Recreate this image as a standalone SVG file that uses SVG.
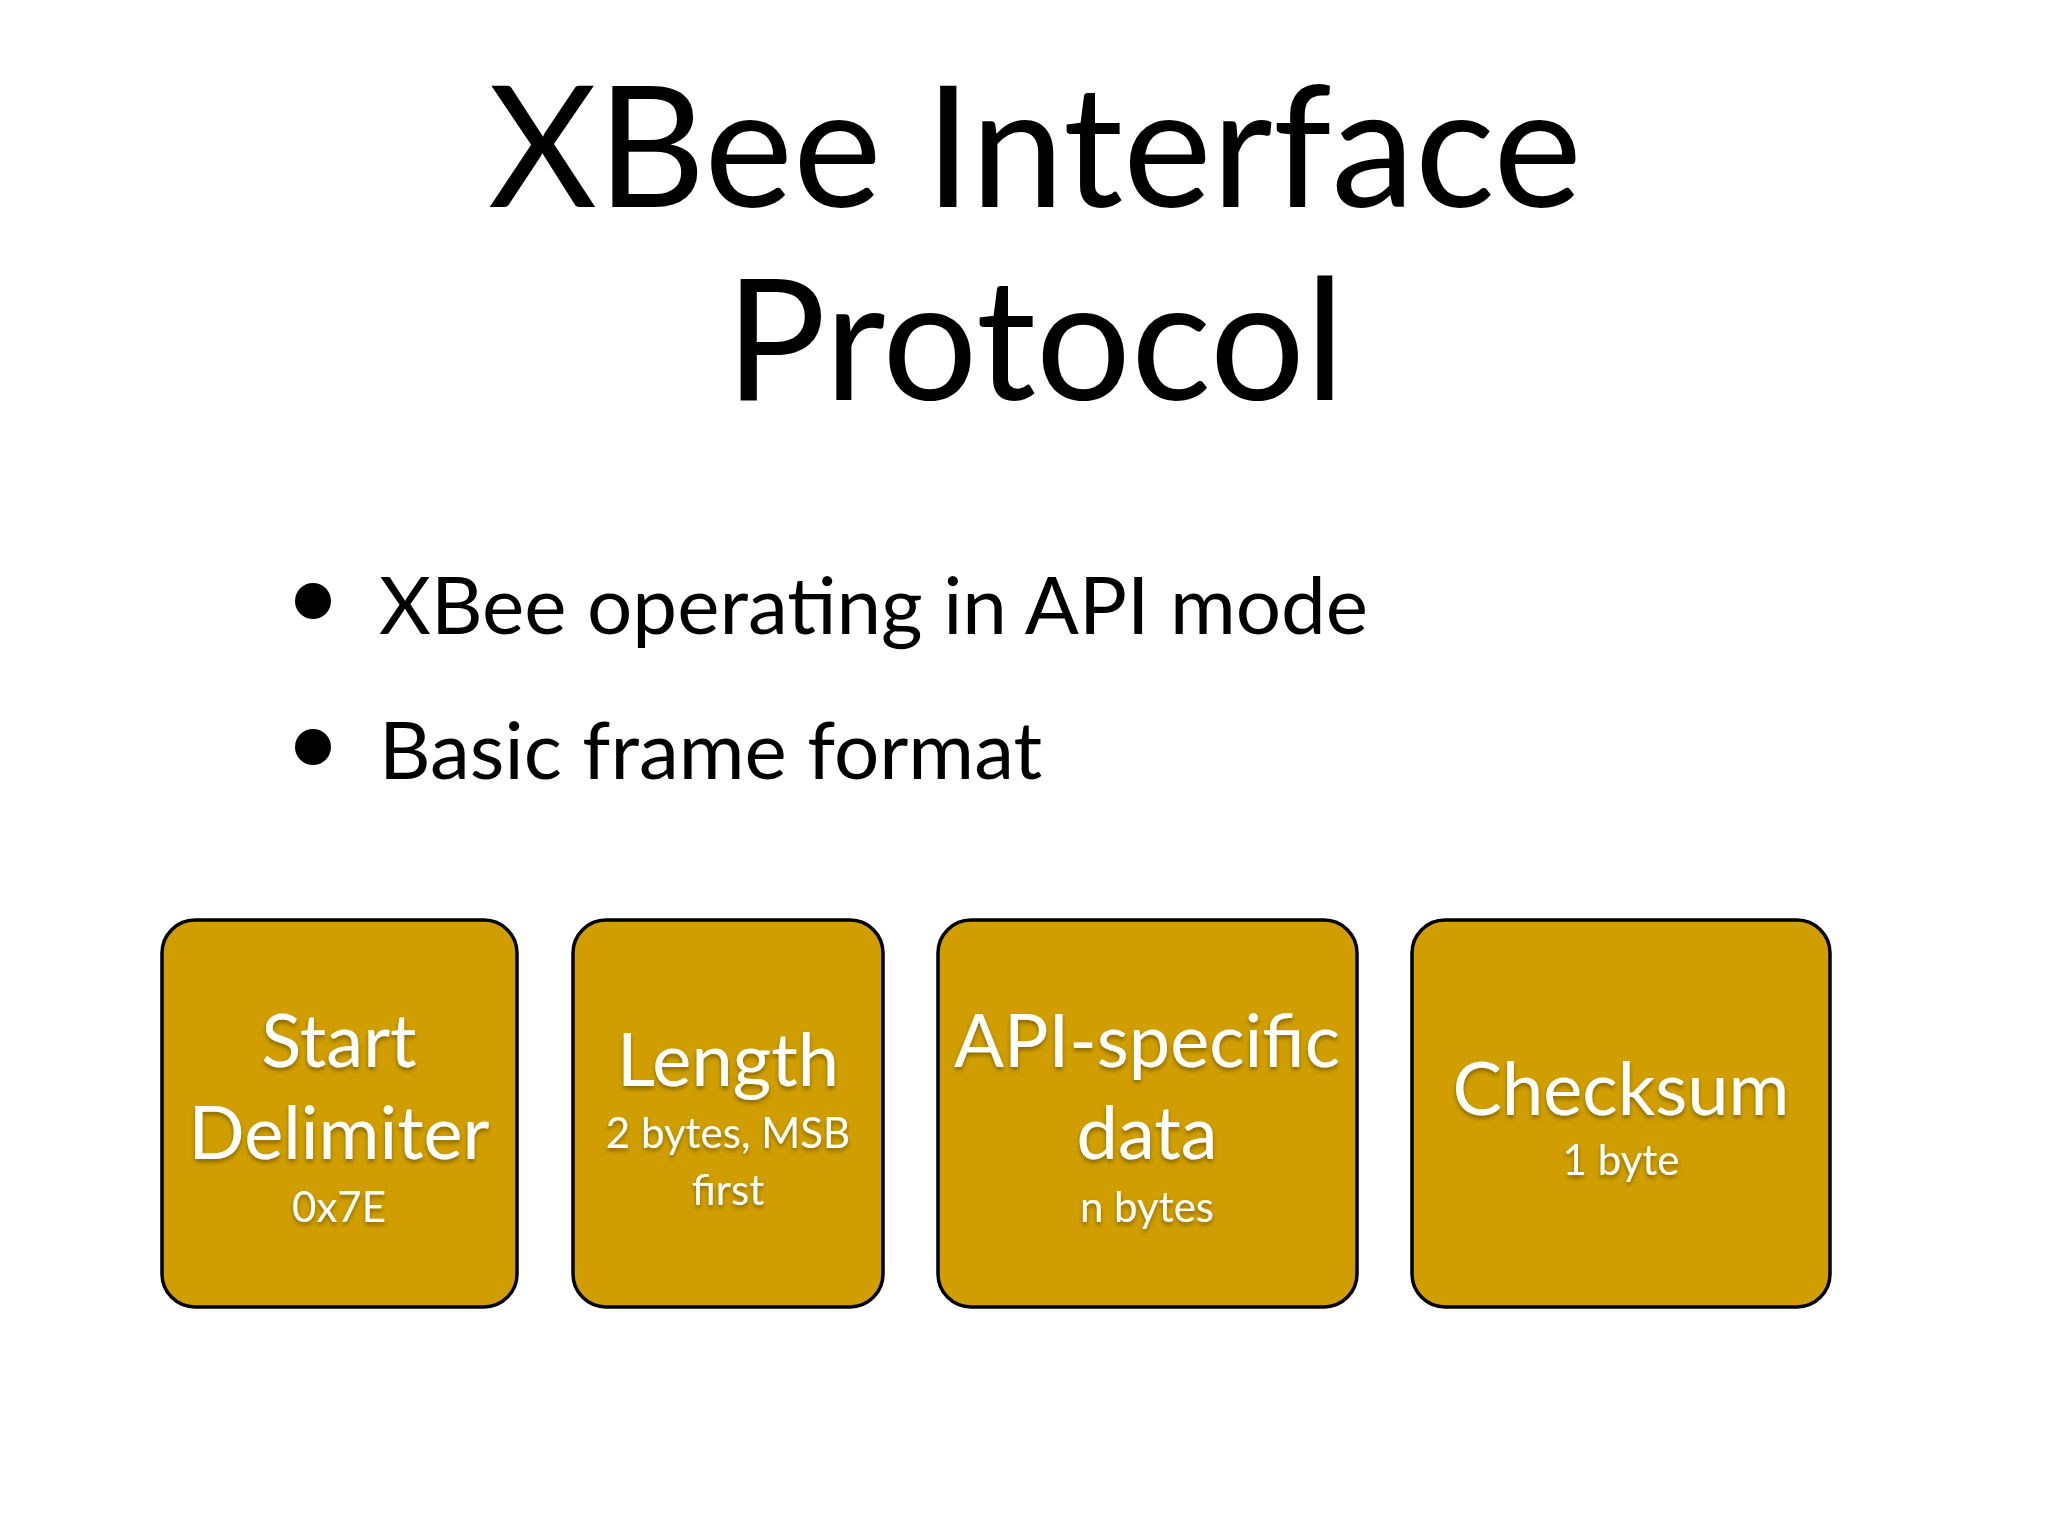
<svg xmlns="http://www.w3.org/2000/svg" width="2048" height="1536" viewBox="0 0 2048 1536">
<defs>
<style>
.t{font-family:Lato,"Open Sans",sans-serif;fill:#000}
.box{fill:#D09E00;stroke:#000;stroke-width:3.5}
.bt{font-family:Lato,"Open Sans",sans-serif;fill:#fff;text-anchor:middle;filter:url(#sh)}
.big{font-size:74px}
.sm{font-size:42px}
</style>
<filter id="sh" x="-10%" y="-10%" width="120%" height="130%"><feDropShadow dx="0" dy="3" stdDeviation="2" flood-color="#000" flood-opacity="0.35"/></filter>
</defs>
<rect width="2048" height="1536" fill="#fff"/>
<g id="title">
<text class="t" x="1035" y="207" font-size="168" text-anchor="middle">XBee Interface</text>
<text class="t" x="1035" y="400" font-size="168" text-anchor="middle">Protocol</text>
</g>
<g id="bullets">
<circle cx="313" cy="601" r="18"/>
<text class="t" x="379" y="634" font-size="80">XBee operating in API mode</text>
<circle cx="313" cy="747" r="18"/>
<text class="t" x="379" y="779" font-size="80">Basic frame format</text>
</g>
<g id="start">
<rect class="box" x="162" y="920" width="355" height="387" rx="33"/>
<text class="bt big" x="339" y="1067">Start</text>
<text class="bt big" x="339" y="1159">Delimiter</text>
<text class="bt sm" x="339" y="1222">0x7E</text>
</g>
<g id="length">
<rect class="box" x="573" y="920" width="310" height="387" rx="33"/>
<text class="bt big" x="728" y="1086">Length</text>
<text class="bt sm" x="728" y="1148">2 bytes, MSB</text>
<text class="bt sm" x="728" y="1205">first</text>
</g>
<g id="api">
<rect class="box" x="938" y="920" width="419" height="387" rx="33"/>
<text class="bt big" x="1147" y="1067">API-specific</text>
<text class="bt big" x="1147" y="1159">data</text>
<text class="bt sm" x="1147" y="1222">n bytes</text>
</g>
<g id="checksum">
<rect class="box" x="1412" y="920" width="418" height="387" rx="33"/>
<text class="bt big" x="1621" y="1115">Checksum</text>
<text class="bt sm" x="1621" y="1175">1 byte</text>
</g>
<g id="connectors"/>
</svg>
